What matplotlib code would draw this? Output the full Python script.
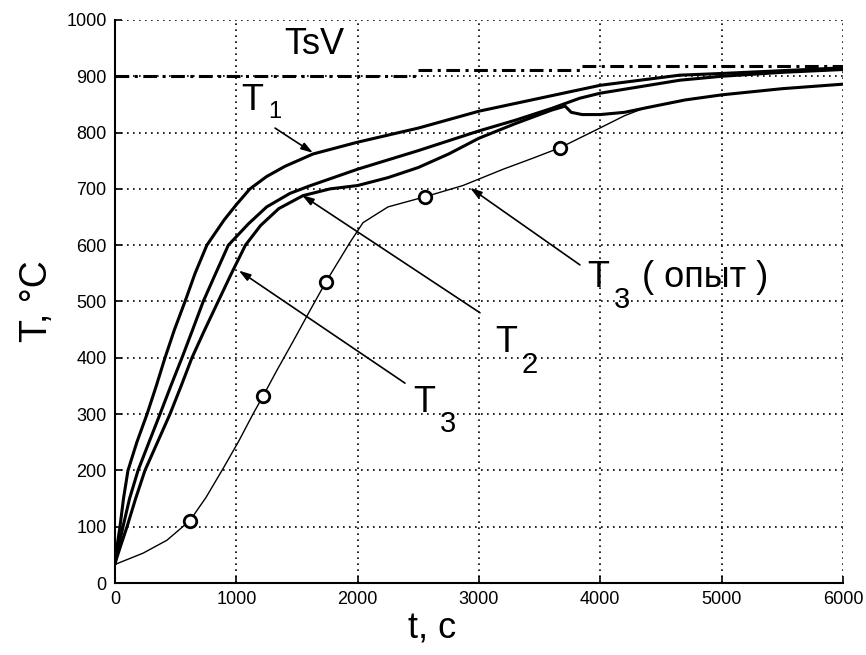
import matplotlib
matplotlib.use("Agg")
import matplotlib.pyplot as plt

plt.rcParams['font.family'] = ['Liberation Sans', 'DejaVu Sans']

# ---- data ----
t1_t = [0, 20, 41, 70, 107, 180, 264, 340, 412, 490, 577, 660, 757, 900, 1000, 1112,
        1250, 1400, 1632, 2000, 2500, 3000, 3500, 4000, 4655, 5000, 5500, 6000]
t1_T = [35, 70, 100, 150, 200, 250, 300, 350, 400, 450, 500, 550, 600, 645, 672, 700,
        722, 740, 762, 783, 808, 838, 861, 884, 902, 905, 910, 915]

t2_t = [0, 30, 66, 120, 190, 280, 371, 460, 552, 640, 727, 830, 934, 1100, 1250, 1442,
        1600, 1800, 2000, 2500, 3000, 3300, 3600, 3830, 4000, 4655, 5000, 5500, 6000]
t2_T = [35, 65, 100, 150, 200, 250, 300, 350, 400, 450, 500, 550, 600, 638, 668, 692,
        705, 720, 735, 768, 803, 822, 843, 861, 870, 893, 900, 907, 912]

t3_t = [0, 45, 99, 170, 247, 350, 453, 545, 634, 740, 850, 960, 1075, 1200, 1350, 1549,
        1772, 2000, 2250, 2500, 2750, 3000, 3300, 3600, 3710, 3760, 3850, 4000, 4200,
        4400, 4700, 5000, 5500, 6000]
t3_T = [35, 65, 100, 150, 200, 250, 300, 350, 400, 450, 500, 550, 600, 635, 665, 688,
        700, 706, 720, 738, 762, 790, 816, 840, 847, 836, 832, 832, 836, 845, 858, 867,
        878, 886]

exp_t = [0, 231, 428, 618, 750, 890, 1020, 1137, 1220, 1335, 1470, 1607, 1739, 1937,
         2044, 2250, 2555, 2868, 3200, 3450, 3667, 3996, 4200, 4380]
exp_T = [33, 53, 76, 111, 152, 203, 252, 300, 332, 378, 430, 484, 535, 605,
         640, 668, 686, 706, 735, 755, 773, 808, 830, 845]
exp_markers = [3, 8, 12, 16, 20]

tsv_start = [0, 2500, 3850]
tsv_end = [2500, 3850, 6000]
tsv_level = [900, 911, 918]

xticks = [0, 1000, 2000, 3000, 4000, 5000, 6000]
yticks = [0, 100, 200, 300, 400, 500, 600, 700, 800, 900, 1000]

# ---- figure ----
fig = plt.figure(figsize=(8.66, 6.55), dpi=100)
ax = fig.add_axes([0.1328, 0.1099, 0.8406, 0.8596])

ax.set_xlim(0, 6000)
ax.set_ylim(0, 1000)
ax.set_xticks(xticks)
ax.set_yticks(yticks)
ax.set_xticklabels([str(v) for v in xticks], family=['Liberation Sans Narrow', 'Liberation Sans'],
                   fontsize=13)
ax.set_yticklabels([str(v) for v in yticks], fontsize=13)
ax.tick_params(direction='in', length=5, width=1.2, colors='black', pad=6)

ax.grid(True, color='black', linestyle=(0, (1, 2.6)), linewidth=1.2)
ax.set_axisbelow(True)
for s in ['top', 'right']:
    ax.spines[s].set_visible(False)
for s in ['left', 'bottom']:
    ax.spines[s].set_linewidth(1.5)

# TsV dash-dot line
for a, b, lv in zip(tsv_start, tsv_end, tsv_level):
    ax.plot([a, b], [lv, lv], color='black', lw=2.2,
            linestyle=(0, (4.5, 1.8, 1.0, 1.8)), solid_capstyle='butt')

ax.plot(t1_t, t1_T, color='black', lw=2.2)
ax.plot(t2_t, t2_T, color='black', lw=2.2)
ax.plot(t3_t, t3_T, color='black', lw=2.2)
ax.plot(exp_t, exp_T, color='black', lw=1.0, marker='o', markevery=exp_markers,
        markersize=9, markerfacecolor='white', markeredgecolor='black', markeredgewidth=2)

# annotations
arrow = dict(arrowstyle='-|>,head_length=0.7,head_width=0.22', color='black', lw=1.2,
             shrinkA=0, shrinkB=0)
ax.annotate('', xy=(1632, 764), xytext=(1319, 808), arrowprops=arrow)
ax.annotate('', xy=(1541, 689), xytext=(3008, 480), arrowprops=arrow)
ax.annotate('', xy=(1020, 555), xytext=(2390, 355), arrowprops=arrow)
ax.annotate('', xy=(2926, 702), xytext=(3832, 565), arrowprops=arrow)

big = 26
sub = 21
ax.text(1640, 956, 'TsV', fontsize=big, ha='center', va='center')
ax.text(1040, 840, 'T', fontsize=big, ha='left', va='baseline')
ax.text(1261, 826, '1', fontsize=17, ha='left', va='baseline')
ax.text(3135, 410, 'T', fontsize=big, ha='left', va='baseline')
ax.text(3354, 373, '2', fontsize=sub, ha='left', va='baseline')
ax.text(2460, 304, 'T', fontsize=big, ha='left', va='baseline')
ax.text(2679, 268, '3', fontsize=sub, ha='left', va='baseline')
ax.text(3890, 526, 'T', fontsize=big, ha='left', va='baseline')
ax.text(4110, 488, '3', fontsize=sub, ha='left', va='baseline')
ax.text(4340, 526, '( опыт )', fontsize=big, ha='left', va='baseline')

ax.set_xlabel('t, c', fontsize=26, labelpad=2, x=0.435)
ax.set_ylabel('T, °C', fontsize=27, labelpad=8)

fig.savefig('out.png', dpi=100)
